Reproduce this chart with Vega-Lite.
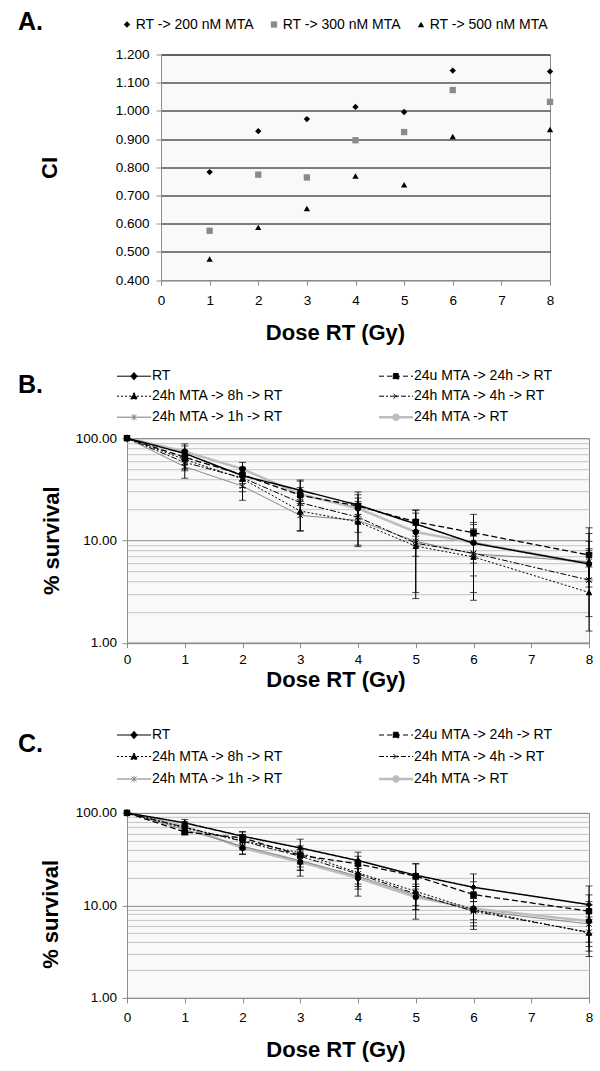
{
  "$schema": "https://vega.github.io/schema/vega-lite/v6.json",
  "padding": {"left": 17, "top": 9.5, "right": 5, "bottom": 5},
  "columns": 1,
  "align": "none",
  "spacing": 23.7,
  "resolve": {"scale": {"color": "independent", "stroke": "independent", "shape": "independent", "strokeDash": "independent", "strokeWidth": "independent"}},
  "config": {
    "font": "Liberation Sans",
    "view": {"fill": "#f9f9f9", "stroke": "#8c8c8c"},
    "axis": {
      "labelFont": "Liberation Sans", "titleFont": "Liberation Sans",
      "labelFontSize": 13.5, "labelColor": "black",
      "titleFontSize": 22, "titleFontWeight": "bold", "titleColor": "black",
      "domainColor": "#8c8c8c", "tickColor": "#8c8c8c", "tickSize": 5,
      "labelFlush": false, "labelOverlap": false, "grid": false
    },
    "legend": {"labelFont": "Liberation Sans", "labelFontSize": 14, "labelColor": "black", "labelLimit": 300},
    "title": {"font": "Liberation Sans", "fontSize": 25, "fontWeight": "bold", "color": "black", "anchor": "start", "frame": "group", "offset": 4}
  },
  "datasets": {
    "ci": [
      {"treatment": "RT -> 200 nM MTA", "dose": 1, "ci": 0.783},
      {"treatment": "RT -> 200 nM MTA", "dose": 2, "ci": 0.928},
      {"treatment": "RT -> 200 nM MTA", "dose": 3, "ci": 0.971},
      {"treatment": "RT -> 200 nM MTA", "dose": 4, "ci": 1.014},
      {"treatment": "RT -> 200 nM MTA", "dose": 5, "ci": 0.996},
      {"treatment": "RT -> 200 nM MTA", "dose": 6, "ci": 1.143},
      {"treatment": "RT -> 200 nM MTA", "dose": 8, "ci": 1.140},
      {"treatment": "RT -> 300 nM MTA", "dose": 1, "ci": 0.575},
      {"treatment": "RT -> 300 nM MTA", "dose": 2, "ci": 0.774},
      {"treatment": "RT -> 300 nM MTA", "dose": 3, "ci": 0.764},
      {"treatment": "RT -> 300 nM MTA", "dose": 4, "ci": 0.896},
      {"treatment": "RT -> 300 nM MTA", "dose": 5, "ci": 0.925},
      {"treatment": "RT -> 300 nM MTA", "dose": 6, "ci": 1.074},
      {"treatment": "RT -> 300 nM MTA", "dose": 8, "ci": 1.032},
      {"treatment": "RT -> 500 nM MTA", "dose": 1, "ci": 0.475},
      {"treatment": "RT -> 500 nM MTA", "dose": 2, "ci": 0.587},
      {"treatment": "RT -> 500 nM MTA", "dose": 3, "ci": 0.654},
      {"treatment": "RT -> 500 nM MTA", "dose": 4, "ci": 0.769},
      {"treatment": "RT -> 500 nM MTA", "dose": 5, "ci": 0.738},
      {"treatment": "RT -> 500 nM MTA", "dose": 6, "ci": 0.909},
      {"treatment": "RT -> 500 nM MTA", "dose": 8, "ci": 0.934}
    ],
    "survB": [
      {"series": "24h MTA -> RT", "dose": 0, "surv": 100},
      {"series": "24h MTA -> RT", "dose": 1, "surv": 74, "lo": 62, "hi": 88},
      {"series": "24h MTA -> RT", "dose": 2, "surv": 50, "lo": 42, "hi": 58},
      {"series": "24h MTA -> RT", "dose": 3, "surv": 28.3, "lo": 22, "hi": 39},
      {"series": "24h MTA -> RT", "dose": 4, "surv": 20.6, "lo": 15, "hi": 29.8},
      {"series": "24h MTA -> RT", "dose": 5, "surv": 12.1, "lo": 9, "hi": 19.8},
      {"series": "24h MTA -> RT", "dose": 6, "surv": 9.5, "lo": 6, "hi": 18},
      {"series": "24h MTA -> RT", "dose": 8, "surv": 5.9, "lo": 3.5, "hi": 13.3},
      {"series": "24h MTA -> 1h -> RT", "dose": 0, "surv": 100},
      {"series": "24h MTA -> 1h -> RT", "dose": 1, "surv": 52.6, "lo": 40.6, "hi": 66},
      {"series": "24h MTA -> 1h -> RT", "dose": 2, "surv": 34, "lo": 24.7, "hi": 44},
      {"series": "24h MTA -> 1h -> RT", "dose": 3, "surv": 17.6, "lo": 12.5, "hi": 24},
      {"series": "24h MTA -> 1h -> RT", "dose": 4, "surv": 15.7, "lo": 9, "hi": 24},
      {"series": "24h MTA -> 1h -> RT", "dose": 5, "surv": 9.8, "lo": 3.1, "hi": 16},
      {"series": "24h MTA -> 1h -> RT", "dose": 6, "surv": 7.4, "lo": 3.1, "hi": 14.3},
      {"series": "24h MTA -> 1h -> RT", "dose": 8, "surv": 6.2, "lo": 4, "hi": 11.7},
      {"series": "24h MTA -> 4h -> RT", "dose": 0, "surv": 100},
      {"series": "24h MTA -> 4h -> RT", "dose": 1, "surv": 58, "lo": 48, "hi": 68},
      {"series": "24h MTA -> 4h -> RT", "dose": 2, "surv": 41, "lo": 33, "hi": 50},
      {"series": "24h MTA -> 4h -> RT", "dose": 3, "surv": 23.4, "lo": 18, "hi": 30},
      {"series": "24h MTA -> 4h -> RT", "dose": 4, "surv": 16.9, "lo": 12, "hi": 23},
      {"series": "24h MTA -> 4h -> RT", "dose": 5, "surv": 9.4, "lo": 7, "hi": 12.5},
      {"series": "24h MTA -> 4h -> RT", "dose": 6, "surv": 7.5, "lo": 4.5, "hi": 11},
      {"series": "24h MTA -> 4h -> RT", "dose": 8, "surv": 4.1, "lo": 1.8, "hi": 8},
      {"series": "24h MTA -> 8h -> RT", "dose": 0, "surv": 100},
      {"series": "24h MTA -> 8h -> RT", "dose": 1, "surv": 62, "lo": 50, "hi": 74},
      {"series": "24h MTA -> 8h -> RT", "dose": 2, "surv": 40, "lo": 30, "hi": 50},
      {"series": "24h MTA -> 8h -> RT", "dose": 3, "surv": 19.4, "lo": 12.3, "hi": 27},
      {"series": "24h MTA -> 8h -> RT", "dose": 4, "surv": 15.2, "lo": 8.7, "hi": 22},
      {"series": "24h MTA -> 8h -> RT", "dose": 5, "surv": 8.8, "lo": 2.7, "hi": 14},
      {"series": "24h MTA -> 8h -> RT", "dose": 6, "surv": 6.9, "lo": 2.6, "hi": 13},
      {"series": "24h MTA -> 8h -> RT", "dose": 8, "surv": 3.1, "lo": 1.3, "hi": 7.5},
      {"series": "24u MTA -> 24h -> RT", "dose": 0, "surv": 100},
      {"series": "24u MTA -> 24h -> RT", "dose": 1, "surv": 65, "lo": 55, "hi": 76},
      {"series": "24u MTA -> 24h -> RT", "dose": 2, "surv": 44, "lo": 38, "hi": 51},
      {"series": "24u MTA -> 24h -> RT", "dose": 3, "surv": 27.7, "lo": 23, "hi": 33},
      {"series": "24u MTA -> 24h -> RT", "dose": 4, "surv": 21.7, "lo": 18, "hi": 26},
      {"series": "24u MTA -> 24h -> RT", "dose": 5, "surv": 15.2, "lo": 12.5, "hi": 18.5},
      {"series": "24u MTA -> 24h -> RT", "dose": 6, "surv": 11.9, "lo": 9.5, "hi": 15},
      {"series": "24u MTA -> 24h -> RT", "dose": 8, "surv": 7.2, "lo": 5.5, "hi": 9.8},
      {"series": "RT", "dose": 0, "surv": 100},
      {"series": "RT", "dose": 1, "surv": 71, "lo": 60, "hi": 84},
      {"series": "RT", "dose": 2, "surv": 43, "lo": 36, "hi": 52},
      {"series": "RT", "dose": 3, "surv": 31, "lo": 25, "hi": 38},
      {"series": "RT", "dose": 4, "surv": 22.2, "lo": 17, "hi": 28},
      {"series": "RT", "dose": 5, "surv": 14.5, "lo": 11, "hi": 19.8},
      {"series": "RT", "dose": 6, "surv": 9.4, "lo": 7, "hi": 12.6},
      {"series": "RT", "dose": 8, "surv": 5.9, "lo": 4.2, "hi": 8.3}
    ],
    "survC": [
      {"series": "24h MTA -> RT", "dose": 0, "surv": 100},
      {"series": "24h MTA -> RT", "dose": 1, "surv": 71.8, "lo": 64, "hi": 80},
      {"series": "24h MTA -> RT", "dose": 2, "surv": 41.8, "lo": 35.5, "hi": 50},
      {"series": "24h MTA -> RT", "dose": 3, "surv": 29.5, "lo": 24, "hi": 36},
      {"series": "24h MTA -> RT", "dose": 4, "surv": 19.8, "lo": 16, "hi": 25},
      {"series": "24h MTA -> RT", "dose": 5, "surv": 12.3, "lo": 9, "hi": 16},
      {"series": "24h MTA -> RT", "dose": 6, "surv": 9.25, "lo": 7, "hi": 12},
      {"series": "24h MTA -> RT", "dose": 8, "surv": 6.75, "lo": 4, "hi": 10},
      {"series": "24h MTA -> 1h -> RT", "dose": 0, "surv": 100},
      {"series": "24h MTA -> 1h -> RT", "dose": 1, "surv": 66, "lo": 58, "hi": 74},
      {"series": "24h MTA -> 1h -> RT", "dose": 2, "surv": 43.6, "lo": 36, "hi": 52},
      {"series": "24h MTA -> 1h -> RT", "dose": 3, "surv": 30.5, "lo": 20.7, "hi": 38},
      {"series": "24h MTA -> 1h -> RT", "dose": 4, "surv": 20.7, "lo": 12.6, "hi": 30},
      {"series": "24h MTA -> 1h -> RT", "dose": 5, "surv": 12.9, "lo": 7.1, "hi": 19},
      {"series": "24h MTA -> 1h -> RT", "dose": 6, "surv": 8.8, "lo": 5.5, "hi": 12},
      {"series": "24h MTA -> 1h -> RT", "dose": 8, "surv": 6.3, "lo": 2.8, "hi": 11},
      {"series": "24h MTA -> 4h -> RT", "dose": 0, "surv": 100},
      {"series": "24h MTA -> 4h -> RT", "dose": 1, "surv": 69.9, "lo": 60, "hi": 76},
      {"series": "24h MTA -> 4h -> RT", "dose": 2, "surv": 49.4, "lo": 40, "hi": 58},
      {"series": "24h MTA -> 4h -> RT", "dose": 3, "surv": 34, "lo": 26, "hi": 40},
      {"series": "24h MTA -> 4h -> RT", "dose": 4, "surv": 21.9, "lo": 17, "hi": 27},
      {"series": "24h MTA -> 4h -> RT", "dose": 5, "surv": 13.3, "lo": 10, "hi": 17},
      {"series": "24h MTA -> 4h -> RT", "dose": 6, "surv": 8.65, "lo": 6.5, "hi": 11},
      {"series": "24h MTA -> 4h -> RT", "dose": 8, "surv": 5.13, "lo": 3.6, "hi": 7},
      {"series": "24h MTA -> 8h -> RT", "dose": 0, "surv": 100},
      {"series": "24h MTA -> 8h -> RT", "dose": 1, "surv": 68.9, "lo": 60, "hi": 78},
      {"series": "24h MTA -> 8h -> RT", "dose": 2, "surv": 50.2, "lo": 42, "hi": 58},
      {"series": "24h MTA -> 8h -> RT", "dose": 3, "surv": 37, "lo": 24, "hi": 44},
      {"series": "24h MTA -> 8h -> RT", "dose": 4, "surv": 22.5, "lo": 15, "hi": 30},
      {"series": "24h MTA -> 8h -> RT", "dose": 5, "surv": 14.2, "lo": 9, "hi": 20},
      {"series": "24h MTA -> 8h -> RT", "dose": 6, "surv": 9.0, "lo": 6, "hi": 12},
      {"series": "24h MTA -> 8h -> RT", "dose": 8, "surv": 5.04, "lo": 3.2, "hi": 7.5},
      {"series": "24u MTA -> 24h -> RT", "dose": 0, "surv": 100},
      {"series": "24u MTA -> 24h -> RT", "dose": 1, "surv": 62.3, "lo": 58, "hi": 68},
      {"series": "24u MTA -> 24h -> RT", "dose": 2, "surv": 53.7, "lo": 45, "hi": 62},
      {"series": "24u MTA -> 24h -> RT", "dose": 3, "surv": 34.8, "lo": 28, "hi": 40},
      {"series": "24u MTA -> 24h -> RT", "dose": 4, "surv": 28.1, "lo": 22, "hi": 34},
      {"series": "24u MTA -> 24h -> RT", "dose": 5, "surv": 20.7, "lo": 15, "hi": 28},
      {"series": "24u MTA -> 24h -> RT", "dose": 6, "surv": 13.1, "lo": 9, "hi": 18},
      {"series": "24u MTA -> 24h -> RT", "dose": 8, "surv": 8.65, "lo": 5, "hi": 13},
      {"series": "RT", "dose": 0, "surv": 100},
      {"series": "RT", "dose": 1, "surv": 78, "lo": 72, "hi": 85},
      {"series": "RT", "dose": 2, "surv": 56, "lo": 50, "hi": 63},
      {"series": "RT", "dose": 3, "surv": 41.8, "lo": 34, "hi": 52},
      {"series": "RT", "dose": 4, "surv": 30.5, "lo": 25, "hi": 37.6},
      {"series": "RT", "dose": 5, "surv": 21.2, "lo": 16, "hi": 28.4},
      {"series": "RT", "dose": 6, "surv": 15.7, "lo": 11, "hi": 21.9},
      {"series": "RT", "dose": 8, "surv": 10.2, "lo": 6.5, "hi": 16.2}
    ]
  },
  "concat": [
    {
      "hconcat": [
        {
          "width": 34,
          "height": 1,
          "view": {"fill": null, "stroke": null},
          "data": {"values": []},
          "mark": "point"
        },
        {
          "width": 389,
          "height": 225.6,
          "title": {"text": "A.", "dx": -143, "dy": 21.8},
          "data": {"name": "ci"},
          "mark": {"type": "point", "filled": true, "opacity": 1, "size": 40},
          "encoding": {
            "x": {
              "field": "dose", "type": "quantitative",
              "scale": {"domain": [0, 8], "nice": false},
              "axis": {"values": [0, 1, 2, 3, 4, 5, 6, 7, 8], "title": "Dose RT (Gy)", "titleX": 174, "titleY": 52, "titleBaseline": "middle", "labelPadding": 8}
            },
            "y": {
              "field": "ci", "type": "quantitative",
              "scale": {"domain": [0.4, 1.2], "nice": false, "zero": false},
              "axis": {
                "values": [0.4, 0.5, 0.6, 0.7, 0.8, 0.9, 1.0, 1.1, 1.2], "format": ".3f",
                "title": "CI", "titleX": -112, "titleY": 113, "titleBaseline": "middle",
                "grid": true, "gridColor": {"condition": {"test": "datum.value < 0.45", "value": "#8c8c8c"}, "value": "black"},
                "labelPadding": 7
              }
            },
            "shape": {
              "field": "treatment", "type": "nominal",
              "scale": {"domain": ["RT -> 200 nM MTA", "RT -> 300 nM MTA", "RT -> 500 nM MTA"], "range": ["diamond", "square", "triangle-up"]},
              "legend": {"orient": "none", "legendX": -41, "legendY": -37, "direction": "horizontal", "title": null, "symbolSize": 40, "symbolStrokeWidth": 0, "labelOffset": 1.7, "columnPadding": 13}
            },
            "color": {
              "field": "treatment", "type": "nominal",
              "scale": {"domain": ["RT -> 200 nM MTA", "RT -> 300 nM MTA", "RT -> 500 nM MTA"], "range": ["black", "#8a8a8a", "black"]},
              "legend": {"orient": "none", "legendX": -41, "legendY": -37, "direction": "horizontal", "title": null, "symbolSize": 40, "symbolStrokeWidth": 0, "labelOffset": 1.7, "columnPadding": 13}
            }
          }
        }
      ],
      "spacing": 0,
      "bounds": "flush",
      "resolve": {"scale": {"color": "independent", "shape": "independent"}}
    },
    {
      "width": 462,
      "height": 204.5,
      "title": {"text": "B.", "dx": -109, "dy": 32.5},
      "data": {"name": "survB"},
      "encoding": {
        "x": {
          "field": "dose", "type": "quantitative",
          "scale": {"domain": [0, 8], "nice": false},
          "axis": {"values": [0, 1, 2, 3, 4, 5, 6, 7, 8], "title": "Dose RT (Gy)", "titleX": 208.5, "titleY": 37, "titleBaseline": "middle", "labelPadding": 5}
        }
      },
      "layer": [
        {
          "mark": {"type": "line"},
          "encoding": {
            "y": {
              "field": "surv", "type": "quantitative",
              "scale": {"type": "log", "domain": [1, 100], "nice": false},
              "axis": {"orient": "left", "values": [1, 10, 100], "format": ".2f", "title": "% survival", "titleX": -76, "titleY": 102, "titleBaseline": "middle", "labelPadding": 5.5}
            },
            "color": {
              "field": "series", "type": "nominal",
              "scale": {"domain": ["RT", "24u MTA -> 24h -> RT", "24h MTA -> 8h -> RT", "24h MTA -> 4h -> RT", "24h MTA -> 1h -> RT", "24h MTA -> RT"], "range": ["black", "black", "black", "black", "#7a7a7a", "#bdbdbd"]},
              "legend": null
            },
            "strokeDash": {
              "field": "series", "type": "nominal",
              "scale": {"domain": ["RT", "24u MTA -> 24h -> RT", "24h MTA -> 8h -> RT", "24h MTA -> 4h -> RT", "24h MTA -> 1h -> RT", "24h MTA -> RT"], "range": [[1, 0], [6, 3], [2, 2], [6, 2, 2, 2], [1, 0], [1, 0]]},
              "legend": null
            },
            "strokeWidth": {
              "field": "series", "type": "nominal",
              "scale": {"type": "ordinal", "domain": ["RT", "24u MTA -> 24h -> RT", "24h MTA -> 8h -> RT", "24h MTA -> 4h -> RT", "24h MTA -> 1h -> RT", "24h MTA -> RT"], "range": [1.5, 1.3, 1, 1, 1, 2.5]},
              "legend": null
            }
          }
        },
        {
          "transform": [{"filter": "datum.lo != null"}],
          "mark": {"type": "errorbar", "ticks": {"size": 7}, "color": "black", "thickness": 1},
          "encoding": {
            "y": {"field": "lo", "type": "quantitative", "axis": null},
            "y2": {"field": "hi"}
          }
        },
        {
          "mark": {"type": "point", "fill": "black", "stroke": "black", "strokeWidth": 1, "opacity": 1, "size": 30},
          "encoding": {
            "y": {
              "field": "surv", "type": "quantitative",
              "axis": {"orient": "left", "values": [1, 2, 3, 4, 5, 6, 7, 8, 9, 10, 20, 30, 40, 50, 60, 70, 80, 90, 100], "grid": true, "gridColor": {"condition": {"test": "datum.value == 1 || datum.value == 10 || datum.value == 100", "value": "#8c8c8c"}, "value": "#c4c4c4"}, "labels": false, "ticks": false, "domain": false, "title": null}
            },
            "shape": {
              "field": "series", "type": "nominal",
              "scale": {"domain": ["RT", "24u MTA -> 24h -> RT", "24h MTA -> 8h -> RT", "24h MTA -> 4h -> RT", "24h MTA -> 1h -> RT", "24h MTA -> RT"], "range": ["diamond", "square", "triangle-up", "M-1,-1L1,1M-1,1L1,-1", "M-1,-1L1,1M-1,1L1,-1M0,-1.3V1.3", "circle"]},
              "legend": null
            }
          }
        },
        {
          "transform": [{"filter": "datum.dose < 0"}],
          "mark": {"type": "point", "fill": "black", "opacity": 1},
          "encoding": {
            "y": {"field": "surv", "type": "quantitative", "axis": null},
            "shape": {
              "field": "series", "type": "nominal",
              "scale": {"domain": ["RT", "24u MTA -> 24h -> RT", "24h MTA -> 8h -> RT", "24h MTA -> 4h -> RT", "24h MTA -> 1h -> RT", "24h MTA -> RT"], "range": ["M-3.4,0H3.4M0,-0.75L0.65,0L0,0.75L-0.65,0Z", "M-3.4,0H3.4M-0.55,-0.55H0.55V0.55H-0.55Z", "M-3.4,0H3.4M0,-0.7L0.7,0.55H-0.7Z", "M-3.4,0H3.4M-0.5,-0.5L0.5,0.5M-0.5,0.5L0.5,-0.5", "M-3.4,0H3.4M-0.5,-0.5L0.5,0.5M-0.5,0.5L0.5,-0.5M0,-0.65V0.65", "M-3.4,0H3.4M0.5,0A0.5,0.5 0 1,1 -0.5,0A0.5,0.5 0 1,1 0.5,0Z"]},
              "legend": {"orient": "none", "legendX": 0, "legendY": -69, "title": null, "direction": "horizontal", "columns": 2, "columnPadding": 91, "rowPadding": 6, "symbolSize": 100, "labelOffset": 11, "padding": 0}
            },
            "stroke": {
              "field": "series", "type": "nominal",
              "scale": {"domain": ["RT", "24u MTA -> 24h -> RT", "24h MTA -> 8h -> RT", "24h MTA -> 4h -> RT", "24h MTA -> 1h -> RT", "24h MTA -> RT"], "range": ["black", "black", "black", "black", "#7a7a7a", "#bdbdbd"]},
              "legend": {"orient": "none", "legendX": 0, "legendY": -69, "title": null, "direction": "horizontal", "columns": 2, "columnPadding": 91, "rowPadding": 6, "symbolSize": 100, "labelOffset": 11, "padding": 0}
            },
            "strokeDash": {
              "field": "series", "type": "nominal",
              "scale": {"domain": ["RT", "24u MTA -> 24h -> RT", "24h MTA -> 8h -> RT", "24h MTA -> 4h -> RT", "24h MTA -> 1h -> RT", "24h MTA -> RT"], "range": [[1, 0], [5, 3], [2, 2], [5, 2, 2, 2], [1, 0], [1, 0]]},
              "legend": {"orient": "none", "legendX": 0, "legendY": -69, "title": null, "direction": "horizontal", "columns": 2, "columnPadding": 91, "rowPadding": 6, "symbolSize": 100, "labelOffset": 11, "padding": 0}
            },
            "strokeWidth": {
              "field": "series", "type": "nominal",
              "scale": {"type": "ordinal", "domain": ["RT", "24u MTA -> 24h -> RT", "24h MTA -> 8h -> RT", "24h MTA -> 4h -> RT", "24h MTA -> 1h -> RT", "24h MTA -> RT"], "range": [1, 1, 1, 1, 1, 2.5]},
              "legend": {"orient": "none", "legendX": 0, "legendY": -69, "title": null, "direction": "horizontal", "columns": 2, "columnPadding": 91, "rowPadding": 6, "symbolSize": 100, "labelOffset": 11, "padding": 0}
            }
          }
        }
      ],
      "resolve": {"axis": {"y": "independent"}, "scale": {"color": "independent", "stroke": "independent", "shape": "independent", "strokeDash": "independent", "strokeWidth": "independent"}}
    },
    {
      "width": 462,
      "height": 185,
      "title": {"text": "C.", "dx": -109, "dy": 44.5},
      "data": {"name": "survC"},
      "encoding": {
        "x": {
          "field": "dose", "type": "quantitative",
          "scale": {"domain": [0, 8], "nice": false},
          "axis": {"values": [0, 1, 2, 3, 4, 5, 6, 7, 8], "title": "Dose RT (Gy)", "titleX": 208.5, "titleY": 52, "titleBaseline": "middle", "labelPadding": 8}
        }
      },
      "layer": [
        {
          "mark": {"type": "line"},
          "encoding": {
            "y": {
              "field": "surv", "type": "quantitative",
              "scale": {"type": "log", "domain": [1, 100], "nice": false},
              "axis": {"orient": "left", "values": [1, 10, 100], "format": ".2f", "title": "% survival", "titleX": -76.3, "titleY": 101, "titleBaseline": "middle", "labelPadding": 5.5}
            },
            "color": {
              "field": "series", "type": "nominal",
              "scale": {"domain": ["RT", "24u MTA -> 24h -> RT", "24h MTA -> 8h -> RT", "24h MTA -> 4h -> RT", "24h MTA -> 1h -> RT", "24h MTA -> RT"], "range": ["black", "black", "black", "black", "#7a7a7a", "#bdbdbd"]},
              "legend": null
            },
            "strokeDash": {
              "field": "series", "type": "nominal",
              "scale": {"domain": ["RT", "24u MTA -> 24h -> RT", "24h MTA -> 8h -> RT", "24h MTA -> 4h -> RT", "24h MTA -> 1h -> RT", "24h MTA -> RT"], "range": [[1, 0], [6, 3], [2, 2], [6, 2, 2, 2], [1, 0], [1, 0]]},
              "legend": null
            },
            "strokeWidth": {
              "field": "series", "type": "nominal",
              "scale": {"type": "ordinal", "domain": ["RT", "24u MTA -> 24h -> RT", "24h MTA -> 8h -> RT", "24h MTA -> 4h -> RT", "24h MTA -> 1h -> RT", "24h MTA -> RT"], "range": [1.5, 1.3, 1, 1, 1, 2.5]},
              "legend": null
            }
          }
        },
        {
          "transform": [{"filter": "datum.lo != null"}],
          "mark": {"type": "errorbar", "ticks": {"size": 7}, "color": "black", "thickness": 1},
          "encoding": {
            "y": {"field": "lo", "type": "quantitative", "axis": null},
            "y2": {"field": "hi"}
          }
        },
        {
          "mark": {"type": "point", "fill": "black", "stroke": "black", "strokeWidth": 1, "opacity": 1, "size": 30},
          "encoding": {
            "y": {
              "field": "surv", "type": "quantitative",
              "axis": {"orient": "left", "values": [1, 2, 3, 4, 5, 6, 7, 8, 9, 10, 20, 30, 40, 50, 60, 70, 80, 90, 100], "grid": true, "gridColor": {"condition": {"test": "datum.value == 1 || datum.value == 10 || datum.value == 100", "value": "#8c8c8c"}, "value": "#c4c4c4"}, "labels": false, "ticks": false, "domain": false, "title": null}
            },
            "shape": {
              "field": "series", "type": "nominal",
              "scale": {"domain": ["RT", "24u MTA -> 24h -> RT", "24h MTA -> 8h -> RT", "24h MTA -> 4h -> RT", "24h MTA -> 1h -> RT", "24h MTA -> RT"], "range": ["diamond", "square", "triangle-up", "M-1,-1L1,1M-1,1L1,-1", "M-1,-1L1,1M-1,1L1,-1M0,-1.3V1.3", "circle"]},
              "legend": null
            }
          }
        },
        {
          "transform": [{"filter": "datum.dose < 0"}],
          "mark": {"type": "point", "fill": "black", "opacity": 1},
          "encoding": {
            "y": {"field": "surv", "type": "quantitative", "axis": null},
            "shape": {
              "field": "series", "type": "nominal",
              "scale": {"domain": ["RT", "24u MTA -> 24h -> RT", "24h MTA -> 8h -> RT", "24h MTA -> 4h -> RT", "24h MTA -> 1h -> RT", "24h MTA -> RT"], "range": ["M-3.4,0H3.4M0,-0.75L0.65,0L0,0.75L-0.65,0Z", "M-3.4,0H3.4M-0.55,-0.55H0.55V0.55H-0.55Z", "M-3.4,0H3.4M0,-0.7L0.7,0.55H-0.7Z", "M-3.4,0H3.4M-0.5,-0.5L0.5,0.5M-0.5,0.5L0.5,-0.5", "M-3.4,0H3.4M-0.5,-0.5L0.5,0.5M-0.5,0.5L0.5,-0.5M0,-0.65V0.65", "M-3.4,0H3.4M0.5,0A0.5,0.5 0 1,1 -0.5,0A0.5,0.5 0 1,1 0.5,0Z"]},
              "legend": {"orient": "none", "legendX": -11.8, "legendY": -96.7, "title": null, "direction": "horizontal", "columns": 2, "columnPadding": 91, "rowPadding": 7.5, "symbolSize": 100, "labelOffset": 11, "padding": 11.8}
            },
            "stroke": {
              "field": "series", "type": "nominal",
              "scale": {"domain": ["RT", "24u MTA -> 24h -> RT", "24h MTA -> 8h -> RT", "24h MTA -> 4h -> RT", "24h MTA -> 1h -> RT", "24h MTA -> RT"], "range": ["black", "black", "black", "black", "#7a7a7a", "#bdbdbd"]},
              "legend": {"orient": "none", "legendX": -11.8, "legendY": -96.7, "title": null, "direction": "horizontal", "columns": 2, "columnPadding": 91, "rowPadding": 7.5, "symbolSize": 100, "labelOffset": 11, "padding": 11.8}
            },
            "strokeDash": {
              "field": "series", "type": "nominal",
              "scale": {"domain": ["RT", "24u MTA -> 24h -> RT", "24h MTA -> 8h -> RT", "24h MTA -> 4h -> RT", "24h MTA -> 1h -> RT", "24h MTA -> RT"], "range": [[1, 0], [5, 3], [2, 2], [5, 2, 2, 2], [1, 0], [1, 0]]},
              "legend": {"orient": "none", "legendX": -11.8, "legendY": -96.7, "title": null, "direction": "horizontal", "columns": 2, "columnPadding": 91, "rowPadding": 7.5, "symbolSize": 100, "labelOffset": 11, "padding": 11.8}
            },
            "strokeWidth": {
              "field": "series", "type": "nominal",
              "scale": {"type": "ordinal", "domain": ["RT", "24u MTA -> 24h -> RT", "24h MTA -> 8h -> RT", "24h MTA -> 4h -> RT", "24h MTA -> 1h -> RT", "24h MTA -> RT"], "range": [1, 1, 1, 1, 1, 2.5]},
              "legend": {"orient": "none", "legendX": -11.8, "legendY": -96.7, "title": null, "direction": "horizontal", "columns": 2, "columnPadding": 91, "rowPadding": 7.5, "symbolSize": 100, "labelOffset": 11, "padding": 11.8}
            }
          }
        }
      ],
      "resolve": {"axis": {"y": "independent"}, "scale": {"color": "independent", "stroke": "independent", "shape": "independent", "strokeDash": "independent", "strokeWidth": "independent"}}
    }
  ]
}
